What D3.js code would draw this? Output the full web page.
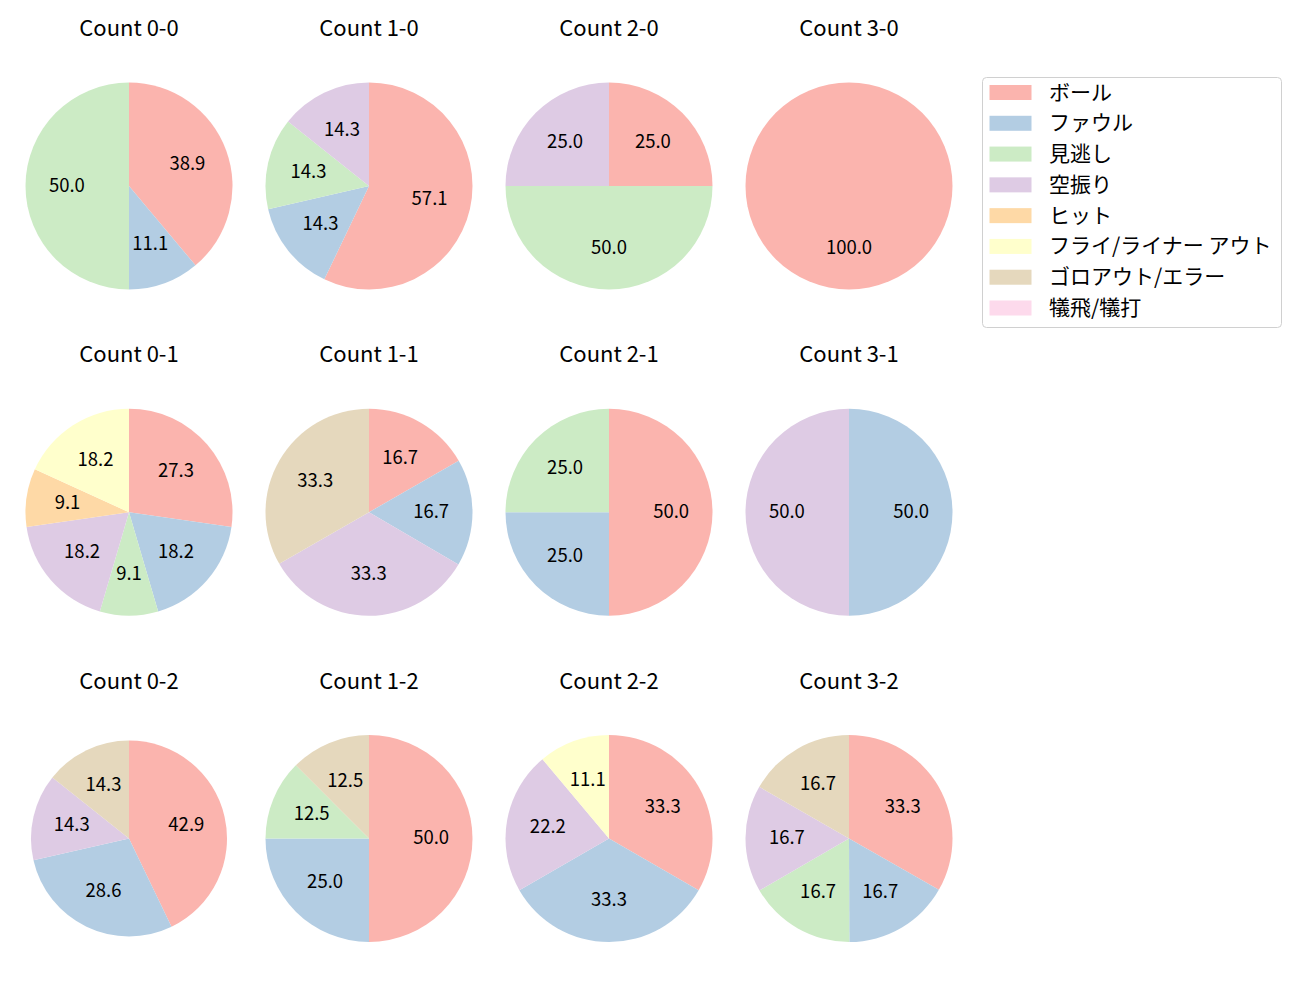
<!DOCTYPE html>
<html><head><meta charset="utf-8">
<script src="https://cdn.jsdelivr.net/npm/d3@7"></script>
<style>body{margin:0;background:#fff;} svg{display:block;font-family:"Noto Sans CJK JP","Noto Sans",sans-serif;}</style>
</head><body>
<script>
const categories = ["ボール","ファウル","見逃し","空振り","ヒット","フライ/ライナー アウト","ゴロアウト/エラー","犠飛/犠打"];
const colors = ["#fbb4ae","#b3cde3","#ccebc5","#decbe4","#fed9a6","#ffffcc","#e5d8bd","#fddaec"];
const titles = ["Count 0-0","Count 1-0","Count 2-0","Count 3-0",
                "Count 0-1","Count 1-1","Count 2-1","Count 3-1",
                "Count 0-2","Count 1-2","Count 2-2","Count 3-2"];
// percentages per category, in category order
const values = [
  [38.9,11.1,50.0,0,0,0,0,0],
  [57.1,14.3,14.3,14.3,0,0,0,0],
  [25.0,0,50.0,25.0,0,0,0,0],
  [100.0,0,0,0,0,0,0,0],
  [27.3,18.2,9.1,18.2,9.1,18.2,0,0],
  [16.7,16.7,0,33.3,0,0,33.3,0],
  [50.0,25.0,25.0,0,0,0,0,0],
  [0,50.0,0,50.0,0,0,0,0],
  [42.9,28.6,0,14.3,0,0,14.3,0],
  [50.0,25.0,12.5,0,0,0,12.5,0],
  [33.3,33.3,0,22.2,0,11.1,0,0],
  [33.3,16.7,16.7,16.7,0,0,16.7,0]
];

const W=1300,H=1000;
const svg=d3.select("body").append("svg").attr("width",W).attr("height",H);
const colX=d3.scalePoint().domain([0,1,2,3]).range([129,849]);
const rowY=d3.scalePoint().domain([0,1,2]).range([186,838.5]);
const color=d3.scaleOrdinal().domain(categories).range(colors);

const pie=d3.pie().sort(null).value(d=>d.v).startAngle(0).endAngle(2*Math.PI);

values.forEach((vals,i)=>{
  const col=i%4,row=Math.floor(i/4);
  const cx=colX(col),cy=rowY(row);
  const R = (i===8)?98:103.5;
  const g=svg.append("g").attr("transform",`translate(${cx},${cy})`);
  const data=vals.map((v,k)=>({v,cat:categories[k]})).filter(d=>d.v>0);
  const arcs=pie(data);
  const arc=d3.arc().innerRadius(0).outerRadius(R);
  g.selectAll("path").data(arcs).enter().append("path")
    .attr("d",arc).attr("fill",d=>color(d.data.cat));
  const lab=d3.arc().innerRadius(R*0.6).outerRadius(R*0.6);
  g.selectAll("text").data(arcs).enter().append("text")
    .attr("transform",d=>{const c=lab.centroid(d);return `translate(${c[0]},${c[1]-2.5})`;})
    .attr("text-anchor","middle").attr("dominant-baseline","central")
    .attr("font-size","18.5px").attr("fill","#000")
    .text(d=>d.data.v.toFixed(1));
  svg.append("text").attr("x",cx).attr("y",cy-160)
    .attr("text-anchor","middle").attr("dominant-baseline","central")
    .attr("font-size","22px").attr("fill","#000").text(titles[i]);
});

// legend
const lg=svg.append("g").attr("transform","translate(982,77)");
lg.append("rect").attr("x",0.5).attr("y",0.5).attr("width",299).attr("height",250)
  .attr("rx",4).attr("fill","#fff").attr("stroke","#d0d0d0");
const ly=d3.scalePoint().domain(categories).range([15.5,231]);
categories.forEach(c=>{
  lg.append("rect").attr("x",7.5).attr("y",ly(c)-7.5).attr("width",42).attr("height",15).attr("fill",color(c));
  lg.append("text").attr("x",67).attr("y",ly(c)-2).attr("dominant-baseline","central")
    .attr("font-size","21px").attr("fill","#000").text(c);
});
</script>
</body></html>
